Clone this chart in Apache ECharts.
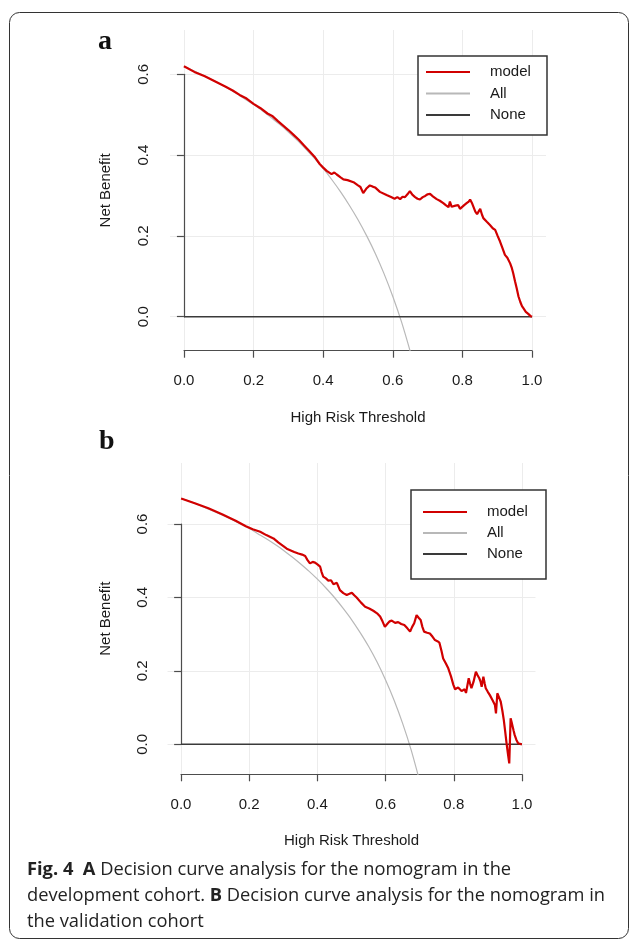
<!DOCTYPE html>
<html>
<head>
<meta charset="utf-8">
<script src="https://cdn.jsdelivr.net/npm/echarts@6/dist/echarts.min.js"></script>
<style>
  html, body { margin: 0; padding: 0; background: #fff; }
  #dca { width: 629px; height: 940px; }
</style>
</head>
<body>
<div id="dca"></div>
<script>
// ---- panel a (development cohort) ----
var allThrA = [0, 0.025, 0.05, 0.075, 0.1, 0.125, 0.15, 0.175, 0.2, 0.225, 0.25, 0.275, 0.3, 0.325, 0.35, 0.375,
  0.4, 0.425, 0.45, 0.475, 0.5, 0.525, 0.55, 0.575, 0.6, 0.625, 0.65];
var allNbA = [0.620, 0.610, 0.600, 0.589, 0.578, 0.566, 0.553, 0.539, 0.525, 0.510, 0.493, 0.476, 0.457, 0.437, 0.415, 0.392,
  0.367, 0.339, 0.309, 0.276, 0.240, 0.200, 0.156, 0.106, 0.050, -0.013, -0.086];

var modelThrA = [0, 0.03, 0.06, 0.09, 0.12, 0.14, 0.16, 0.18, 0.2, 0.22, 0.24, 0.255, 0.27, 0.285, 0.3, 0.315, 0.33, 0.345, 0.36, 0.375,
  0.39, 0.4, 0.41, 0.424, 0.432, 0.439, 0.45, 0.458, 0.47, 0.487, 0.5, 0.507, 0.515, 0.525, 0.534, 0.542, 0.549, 0.563, 0.582, 0.595,
  0.605, 0.613, 0.621, 0.628, 0.635, 0.642, 0.649, 0.656, 0.664, 0.671, 0.678, 0.686, 0.693, 0.7, 0.707, 0.715, 0.726, 0.735, 0.745, 0.752,
  0.76, 0.764, 0.769, 0.774, 0.78, 0.788, 0.793, 0.798, 0.805, 0.812, 0.818, 0.822, 0.828, 0.837, 0.842, 0.846, 0.851, 0.856, 0.86, 0.87,
  0.879, 0.887, 0.894, 0.901, 0.908, 0.915, 0.922, 0.929, 0.937, 0.942, 0.946, 0.951, 0.956, 0.961, 0.966, 0.971, 0.975, 0.982, 0.989, 0.995, 1];
var modelNbA = [0.620, 0.606, 0.595, 0.582, 0.569, 0.560, 0.549, 0.540, 0.527, 0.516, 0.503, 0.496, 0.484, 0.473, 0.462, 0.450, 0.438, 0.424, 0.410, 0.396,
  0.378, 0.369, 0.361, 0.353, 0.357, 0.352, 0.345, 0.340, 0.338, 0.333, 0.325, 0.321, 0.306, 0.318, 0.325, 0.322, 0.320, 0.309, 0.301, 0.296,
  0.292, 0.296, 0.291, 0.297, 0.296, 0.303, 0.311, 0.302, 0.296, 0.292, 0.290, 0.296, 0.299, 0.303, 0.304, 0.298, 0.291, 0.287, 0.281, 0.276,
  0.271, 0.285, 0.272, 0.268, 0.275, 0.276, 0.267, 0.268, 0.276, 0.281, 0.285, 0.290, 0.280, 0.260, 0.254, 0.252, 0.267, 0.253, 0.244, 0.235,
  0.227, 0.219, 0.215, 0.200, 0.186, 0.170, 0.153, 0.146, 0.132, 0.120, 0.107, 0.088, 0.070, 0.050, 0.037, 0.026, 0.021, 0.012, 0.007, 0.002, 0.000];

// ---- panel b (validation cohort) ----
var allThrB = [0, 0.025, 0.05, 0.075, 0.1, 0.125, 0.15, 0.175, 0.2, 0.225, 0.25, 0.275, 0.3, 0.325, 0.35, 0.375,
  0.4, 0.425, 0.45, 0.475, 0.5, 0.525, 0.55, 0.575, 0.6, 0.625, 0.65, 0.675, 0.7];
var allNbB = [0.670, 0.662, 0.653, 0.643, 0.633, 0.623, 0.612, 0.600, 0.588, 0.574, 0.560, 0.545, 0.529, 0.511, 0.492, 0.472,
  0.450, 0.426, 0.400, 0.371, 0.340, 0.305, 0.267, 0.224, 0.175, 0.120, 0.057, -0.015, -0.100];

var modelThrB = [0, 0.04, 0.08, 0.12, 0.16, 0.19, 0.21, 0.232, 0.25, 0.271, 0.285, 0.3, 0.31, 0.32, 0.332, 0.344, 0.355, 0.364, 0.371, 0.378,
  0.386, 0.393, 0.4, 0.408, 0.412, 0.417, 0.425, 0.432, 0.44, 0.447, 0.457, 0.466, 0.476, 0.486, 0.494, 0.501, 0.508, 0.515, 0.528, 0.54,
  0.552, 0.564, 0.575, 0.584, 0.591, 0.598, 0.606, 0.612, 0.618, 0.628, 0.637, 0.646, 0.655, 0.664, 0.672, 0.678, 0.684, 0.691, 0.697, 0.703,
  0.708, 0.713, 0.722, 0.73, 0.738, 0.745, 0.752, 0.758, 0.764, 0.769, 0.777, 0.784, 0.792, 0.799, 0.804, 0.808, 0.813, 0.818, 0.823, 0.828,
  0.832, 0.836, 0.84, 0.844, 0.848, 0.852, 0.858, 0.865, 0.87, 0.875, 0.879, 0.882, 0.887, 0.891, 0.894, 0.9, 0.906, 0.914, 0.921, 0.924,
  0.928, 0.933, 0.938, 0.943, 0.947, 0.951, 0.955, 0.959, 0.963, 0.965, 0.967, 0.97, 0.973, 0.976, 0.979, 0.984, 0.989, 0.995, 1];
var modelNbB = [0.670, 0.657, 0.643, 0.627, 0.609, 0.594, 0.586, 0.579, 0.570, 0.561, 0.550, 0.540, 0.533, 0.529, 0.524, 0.520, 0.517, 0.513, 0.502, 0.493,
  0.497, 0.495, 0.490, 0.484, 0.470, 0.457, 0.452, 0.446, 0.447, 0.436, 0.440, 0.420, 0.412, 0.407, 0.410, 0.413, 0.406, 0.400, 0.386, 0.375,
  0.370, 0.364, 0.357, 0.348, 0.335, 0.320, 0.329, 0.335, 0.337, 0.331, 0.333, 0.328, 0.325, 0.316, 0.307, 0.320, 0.330, 0.352, 0.345, 0.339,
  0.320, 0.307, 0.304, 0.302, 0.293, 0.284, 0.281, 0.277, 0.255, 0.234, 0.220, 0.207, 0.185, 0.162, 0.150, 0.148, 0.155, 0.157, 0.145, 0.143,
  0.150, 0.140, 0.160, 0.180, 0.165, 0.153, 0.170, 0.198, 0.188, 0.180, 0.170, 0.157, 0.184, 0.165, 0.153, 0.143, 0.134, 0.120, 0.107, 0.084,
  0.139, 0.128, 0.116, 0.090, 0.066, 0.035, 0.003, -0.025, -0.052, 0.010, 0.071, 0.060, 0.048, 0.036, 0.025, 0.012, 0.003, 0.001, 0.000];

var noneThr = [0, 1];
var noneNb = [0, 0];

var xTicks = [0, 0.2, 0.4, 0.6, 0.8, 1.0];
var yTicks = [0, 0.2, 0.4, 0.6];

function pairs(xs, ys) {
    return xs.map(function (x, i) { return [x, ys[i]]; });
}

var FONT = 'Liberation Sans';
var TXT = '#1a1a1a';
var AXIS = '#4d4d4d';
var GRIDC = '#ececec';
var RED = '#d10000';
var GREY = '#b8b8b8';
var DARK = '#3a3a3a';

// one panel = data grid + x-axis grid (0..1) + y-axis grid (0..0.6), R style detached axes
function panel(p) {
    var xData = {
        gridIndex: p.g, type: 'value', min: -0.04, max: 1.04,
        axisLine: { show: false }, axisTick: { show: false }, axisLabel: { show: false }, splitLine: { show: false },
        name: 'High Risk Threshold', nameLocation: 'middle', nameGap: p.xNameGap,
        nameTextStyle: { fontFamily: FONT, fontSize: 15, color: TXT }
    };
    var yData = {
        gridIndex: p.g, type: 'value', min: p.ymin, max: p.ymax,
        axisLine: { show: false }, axisTick: { show: false }, axisLabel: { show: false }, splitLine: { show: false },
        name: 'Net Benefit', nameLocation: 'middle', nameGap: p.yNameGap,
        nameTextStyle: { fontFamily: FONT, fontSize: 15, color: TXT }
    };
    var xTick = {
        gridIndex: p.g + 1, type: 'value', min: xTicks[0], max: xTicks[xTicks.length - 1], interval: 0.2,
        axisLine: { show: true, lineStyle: { color: AXIS, width: 1.2 } },
        axisTick: { show: true, length: 7, lineStyle: { color: AXIS, width: 1.2 } },
        axisLabel: { margin: p.xLabMargin, fontFamily: FONT, fontSize: 15, color: TXT, formatter: function (v) { return v.toFixed(1); } },
        splitLine: { show: true, lineStyle: { color: GRIDC, width: 1 } }
    };
    var yHid1 = { gridIndex: p.g + 1, type: 'value', min: 0, max: 1, show: false };
    var xHid2 = { gridIndex: p.g + 2, type: 'value', min: -0.04, max: 1.04, show: false };
    var yTick = {
        gridIndex: p.g + 2, type: 'value', min: yTicks[0], max: yTicks[yTicks.length - 1], interval: 0.2,
        axisLine: { show: true, lineStyle: { color: AXIS, width: 1.2 } },
        axisTick: { show: true, length: 7, lineStyle: { color: AXIS, width: 1.2 } },
        axisLabel: { rotate: 90, margin: p.yLabMargin, fontFamily: FONT, fontSize: 15, color: TXT, formatter: function (v) { return v.toFixed(1); } },
        splitLine: { show: true, lineStyle: { color: GRIDC, width: 1 } }
    };
    return { x: [xData, xTick, xHid2], y: [yData, yHid1, yTick] };
}

var pa = panel({ g: 0, ymin: -0.0842, ymax: 0.7097, xNameGap: 60, yNameGap: 57, xLabMargin: 23, yLabMargin: 19 });
var pb = panel({ g: 3, ymin: -0.0817, ymax: 0.7665, xNameGap: 59, yNameGap: 54, xLabMargin: 23, yLabMargin: 17.5 });

function lines(ax, all, model, none) {
    return [
        { name: 'All', type: 'line', xAxisIndex: ax, yAxisIndex: ax, data: all, symbol: 'none', smooth: 0.3,
          lineStyle: { color: GREY, width: 1.2 }, itemStyle: { color: GREY }, clip: true, z: 3 },
        { name: 'None', type: 'line', xAxisIndex: ax, yAxisIndex: ax, data: none, symbol: 'none',
          lineStyle: { color: DARK, width: 1.4 }, itemStyle: { color: DARK }, clip: true, z: 4 },
        { name: 'model', type: 'line', xAxisIndex: ax, yAxisIndex: ax, data: model, symbol: 'none',
          lineStyle: { color: RED, width: 2.2 }, itemStyle: { color: RED }, clip: true, z: 5 }
    ];
}

function legendBox(left, top, pad, gap, tw) {
    return {
        orient: 'vertical', left: left, top: top, padding: pad, itemGap: gap,
        icon: 'rect', itemWidth: 44, itemHeight: 2,
        data: [
            { name: 'model', icon: 'rect', itemStyle: { color: RED } },
            { name: 'All', icon: 'rect', itemStyle: { color: GREY } },
            { name: 'None', icon: 'rect', itemStyle: { color: DARK } }
        ],
        borderColor: '#333', borderWidth: 1.5, backgroundColor: '#fff',
        textStyle: { fontFamily: FONT, fontSize: 15, color: TXT, padding: [0, 0, 0, 15], width: tw, lineHeight: 15 }
    };
}

var chart = echarts.init(document.getElementById('dca'), null, { renderer: 'canvas' });

var option = {
    animation: false,
    backgroundColor: '#fff',
    grid: [
        { left: 170, top: 30, width: 376, height: 320.7 },
        { left: 184, top: 30, width: 348, height: 320.7 },
        { left: 170, top: 74.3, width: 376, height: 242.4 },
        { left: 167.5, top: 463, width: 368, height: 311.3 },
        { left: 181, top: 463, width: 341, height: 311.3 },
        { left: 167.5, top: 524, width: 368, height: 220.3 }
    ],
    xAxis: pa.x.concat(pb.x),
    yAxis: pa.y.concat(pb.y),
    legend: [
        legendBox(418, 56, [8.5, 12, 12.5, 8], 6.5, 45),
        legendBox(411, 490, [14.5, 14, 17.5, 12], 6, 45)
    ],
    series: lines(0, pairs(allThrA, allNbA), pairs(modelThrA, modelNbA), pairs(noneThr, noneNb))
        .concat(lines(3, pairs(allThrB, allNbB), pairs(modelThrB, modelNbB), pairs(noneThr, noneNb))),
    graphic: [
        { type: 'rect', shape: { x: 9.5, y: 12.5, width: 619, height: 926, r: 10 },
          style: { fill: 'none', stroke: '#333', lineWidth: 1 }, silent: true },
        { type: 'text', left: 98, top: 28, style: { text: 'a', font: 'bold 28px "Liberation Serif"', fill: '#111' } },
        { type: 'text', left: 99, top: 428, style: { text: 'b', font: 'bold 28px "Liberation Serif"', fill: '#111' } },
        { type: 'text', left: 27, top: 857,
          style: {
              text: '{b|Fig. 4}  {b|A} Decision curve analysis for the nomogram in the\n' +
                    'development cohort. {b|B} Decision curve analysis for the nomogram in\n' +
                    'the validation cohort',
              fontFamily: 'Open Sans', fontSize: 18.3, lineHeight: 26, fill: '#222',
              rich: { b: { fontFamily: 'Open Sans', fontWeight: 'bold', fontSize: 18.3, lineHeight: 26, fill: '#222' } }
          } }
    ]
};

chart.setOption(option);
</script>
</body>
</html>
